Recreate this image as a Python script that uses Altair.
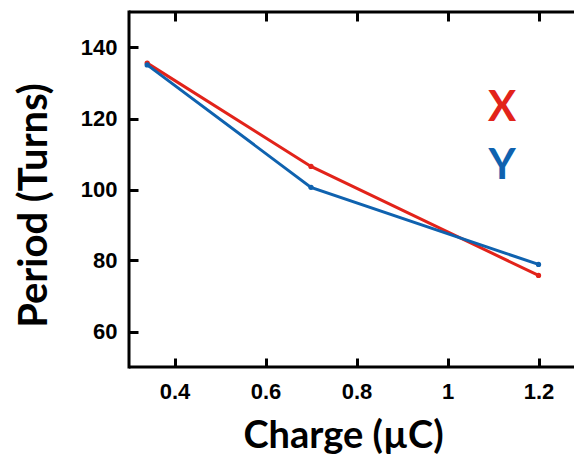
import altair as alt
import pandas as pd

# Measured period vs. charge for the two series
charge_x = [0.34, 0.70, 1.20]
period_x = [135.6, 106.5, 75.8]
charge_y = [0.34, 0.70, 1.20]
period_y = [135.1, 100.6, 78.9]

series_names = ["X", "Y"]
series_colors = ["#E2231A", "#0F62AF"]

x_ticks = [0.4, 0.6, 0.8, 1.0, 1.2]
y_ticks = [60, 80, 100, 120, 140]

df = pd.DataFrame({
    "charge": charge_x + charge_y,
    "period": period_x + period_y,
    "series": [series_names[0]] * len(charge_x) + [series_names[1]] * len(charge_y),
})

W, H = 445, 355
TICK_FONT = "Liberation Sans"
TITLE_FONT = "Lato"

x_scale = alt.Scale(domain=[0.3, 1.278], nice=False, zero=False)
y_scale = alt.Scale(domain=[50, 150], nice=False, zero=False)
color = alt.Color(
    "series:N",
    scale=alt.Scale(domain=series_names, range=series_colors),
    legend=None,
)

bottom_axis = alt.Axis(
    values=x_ticks, format="~g", grid=False, domain=False,
    offset=-9, tickSize=9, tickWidth=3, tickColor="black",
    labelFont=TICK_FONT, labelFontSize=22, labelFontWeight="bold",
    labelColor="black", labelPadding=14, labelFlush=False,
    title="Charge (µC)", titleFont=TITLE_FONT, titleFontSize=38,
    titleFontWeight="bold", titleColor="black",
    titleAlign="center", titleBaseline="alphabetic",
    titleX=214, titleY=89,
)
top_axis = alt.Axis(
    orient="top", values=x_ticks, grid=False, domain=False, labels=False,
    offset=-9, tickSize=9, tickWidth=3, tickColor="black", title=None,
)
left_axis = alt.Axis(
    values=y_ticks, grid=False, domain=False,
    offset=-9, tickSize=9, tickWidth=3, tickColor="black",
    labelFont=TICK_FONT, labelFontSize=22, labelFontWeight="bold",
    labelColor="black", labelPadding=12,
    title="Period (Turns)", titleFont=TITLE_FONT, titleFontSize=40,
    titleFontWeight="bold", titleColor="black",
    titleAngle=-90, titleAlign="center", titleBaseline="alphabetic",
    titleX=-92, titleY=193,
)

lines = alt.Chart(df).mark_line(strokeWidth=3).encode(
    x=alt.X("charge:Q", scale=x_scale, axis=bottom_axis),
    y=alt.Y("period:Q", scale=y_scale, axis=left_axis),
    color=color,
)
points = alt.Chart(df).mark_circle(size=28, opacity=1).encode(
    x=alt.X("charge:Q", scale=x_scale, axis=top_axis),
    y=alt.Y("period:Q", scale=y_scale, axis=left_axis),
    color=color,
)

# Frame lines: left, bottom and top edges of the plot box
one = pd.DataFrame({"k": [0]})
frame_left = alt.Chart(one).mark_rule(color="black", strokeWidth=3).encode(
    x=alt.value(0), y=alt.value(-1.5), y2=alt.value(H + 1.5))
frame_bottom = alt.Chart(one).mark_rule(color="black", strokeWidth=3).encode(
    x=alt.value(0), x2=alt.value(W), y=alt.value(H))
frame_top = alt.Chart(one).mark_rule(color="black", strokeWidth=3).encode(
    x=alt.value(0), x2=alt.value(W), y=alt.value(0))

# Series labels inside the plot, coloured like their lines
label_style = dict(font=TITLE_FONT, fontSize=42, fontWeight="bold",
                   align="center", baseline="alphabetic")
label_x = alt.Chart(pd.DataFrame({"series": [series_names[0]]})).mark_text(
    **label_style
).encode(x=alt.value(373), y=alt.value(109), text="series:N", color=color)
label_y = alt.Chart(pd.DataFrame({"series": [series_names[1]]})).mark_text(
    **label_style
).encode(x=alt.value(373), y=alt.value(167), text="series:N", color=color)

chart = alt.layer(
    lines, points, frame_left, frame_bottom, frame_top, label_x, label_y
).resolve_axis(x="independent").properties(
    width=W, height=H,
    autosize=alt.AutoSizeParams(type="none"),
    padding={"left": 129, "top": 12, "right": 0, "bottom": 90},
).configure_view(stroke=None)

chart.save("out.html", embed_options={"renderer": "svg", "actions": False})
